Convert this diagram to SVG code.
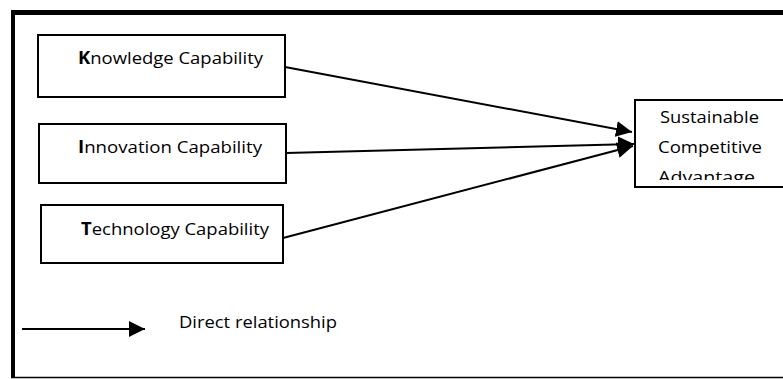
<svg xmlns="http://www.w3.org/2000/svg" width="783" height="379" viewBox="0 0 783 379">
  <style>
    .box { fill: #ffffff; stroke: #000000; stroke-width: 2; }
    .label { font-family: "Open Sans", "Noto Sans", "Liberation Sans", sans-serif; font-size: 17px; fill: #000000; }
    .b { font-weight: bold; }
    .conn { stroke: #000000; stroke-width: 2; fill: none; }
  </style>
  <defs>
    <marker id="arrow" markerUnits="userSpaceOnUse" markerWidth="18" markerHeight="16" refX="16" refY="8" orient="auto">
      <path d="M0,0 L16,8 L0,16 Z" fill="#000000"/>
    </marker>
    <clipPath id="scaClip">
      <rect x="636" y="101" width="150" height="79"/>
    </clipPath>
  </defs>

  <rect width="783" height="379" fill="#ffffff"/>

  <!-- outer frame: heavy top and left edges, thin bottom edge -->
  <g id="frame">
    <line x1="11" y1="12.5" x2="783" y2="12.5" stroke="#000" stroke-width="5"/>
    <line x1="13" y1="10" x2="13" y2="378" stroke="#000" stroke-width="4"/>
    <line x1="11" y1="377.5" x2="783" y2="377.5" stroke="#000" stroke-width="1.5"/>
  </g>

  <g id="knowledge">
    <rect class="box" x="38" y="35" width="247" height="62"/>
    <text class="label" x="78" y="64" textLength="185" lengthAdjust="spacingAndGlyphs"><tspan class="b">K</tspan>nowledge Capability</text>
  </g>

  <g id="innovation">
    <rect class="box" x="39" y="124" width="247" height="59"/>
    <text class="label" x="78" y="153" textLength="184" lengthAdjust="spacingAndGlyphs"><tspan class="b">I</tspan>nnovation Capability</text>
  </g>

  <g id="technology">
    <rect class="box" x="41" y="205" width="242" height="58"/>
    <text class="label" x="81" y="235" textLength="188" lengthAdjust="spacingAndGlyphs"><tspan class="b">T</tspan>echnology Capability</text>
  </g>

  <g id="sca">
    <rect class="box" x="635" y="100" width="160" height="87"/>
    <g clip-path="url(#scaClip)">
      <text class="label" x="660" y="123" textLength="99" lengthAdjust="spacingAndGlyphs">Sustainable</text>
      <text class="label" x="658" y="153" textLength="104" lengthAdjust="spacingAndGlyphs">Competitive</text>
      <text class="label" x="658" y="183" textLength="97" lengthAdjust="spacingAndGlyphs">Advantage</text>
    </g>
  </g>

  <g id="connectors">
    <line class="conn" x1="285" y1="67" x2="632" y2="132" marker-end="url(#arrow)"/>
    <line class="conn" x1="286" y1="153" x2="634" y2="144" marker-end="url(#arrow)"/>
    <line class="conn" x1="283" y1="238" x2="633" y2="146" marker-end="url(#arrow)"/>
  </g>

  <g id="legend">
    <line class="conn" x1="22" y1="329" x2="145" y2="329" marker-end="url(#arrow)"/>
    <text class="label" x="179" y="328" textLength="158" lengthAdjust="spacingAndGlyphs">Direct relationship</text>
  </g>
</svg>
